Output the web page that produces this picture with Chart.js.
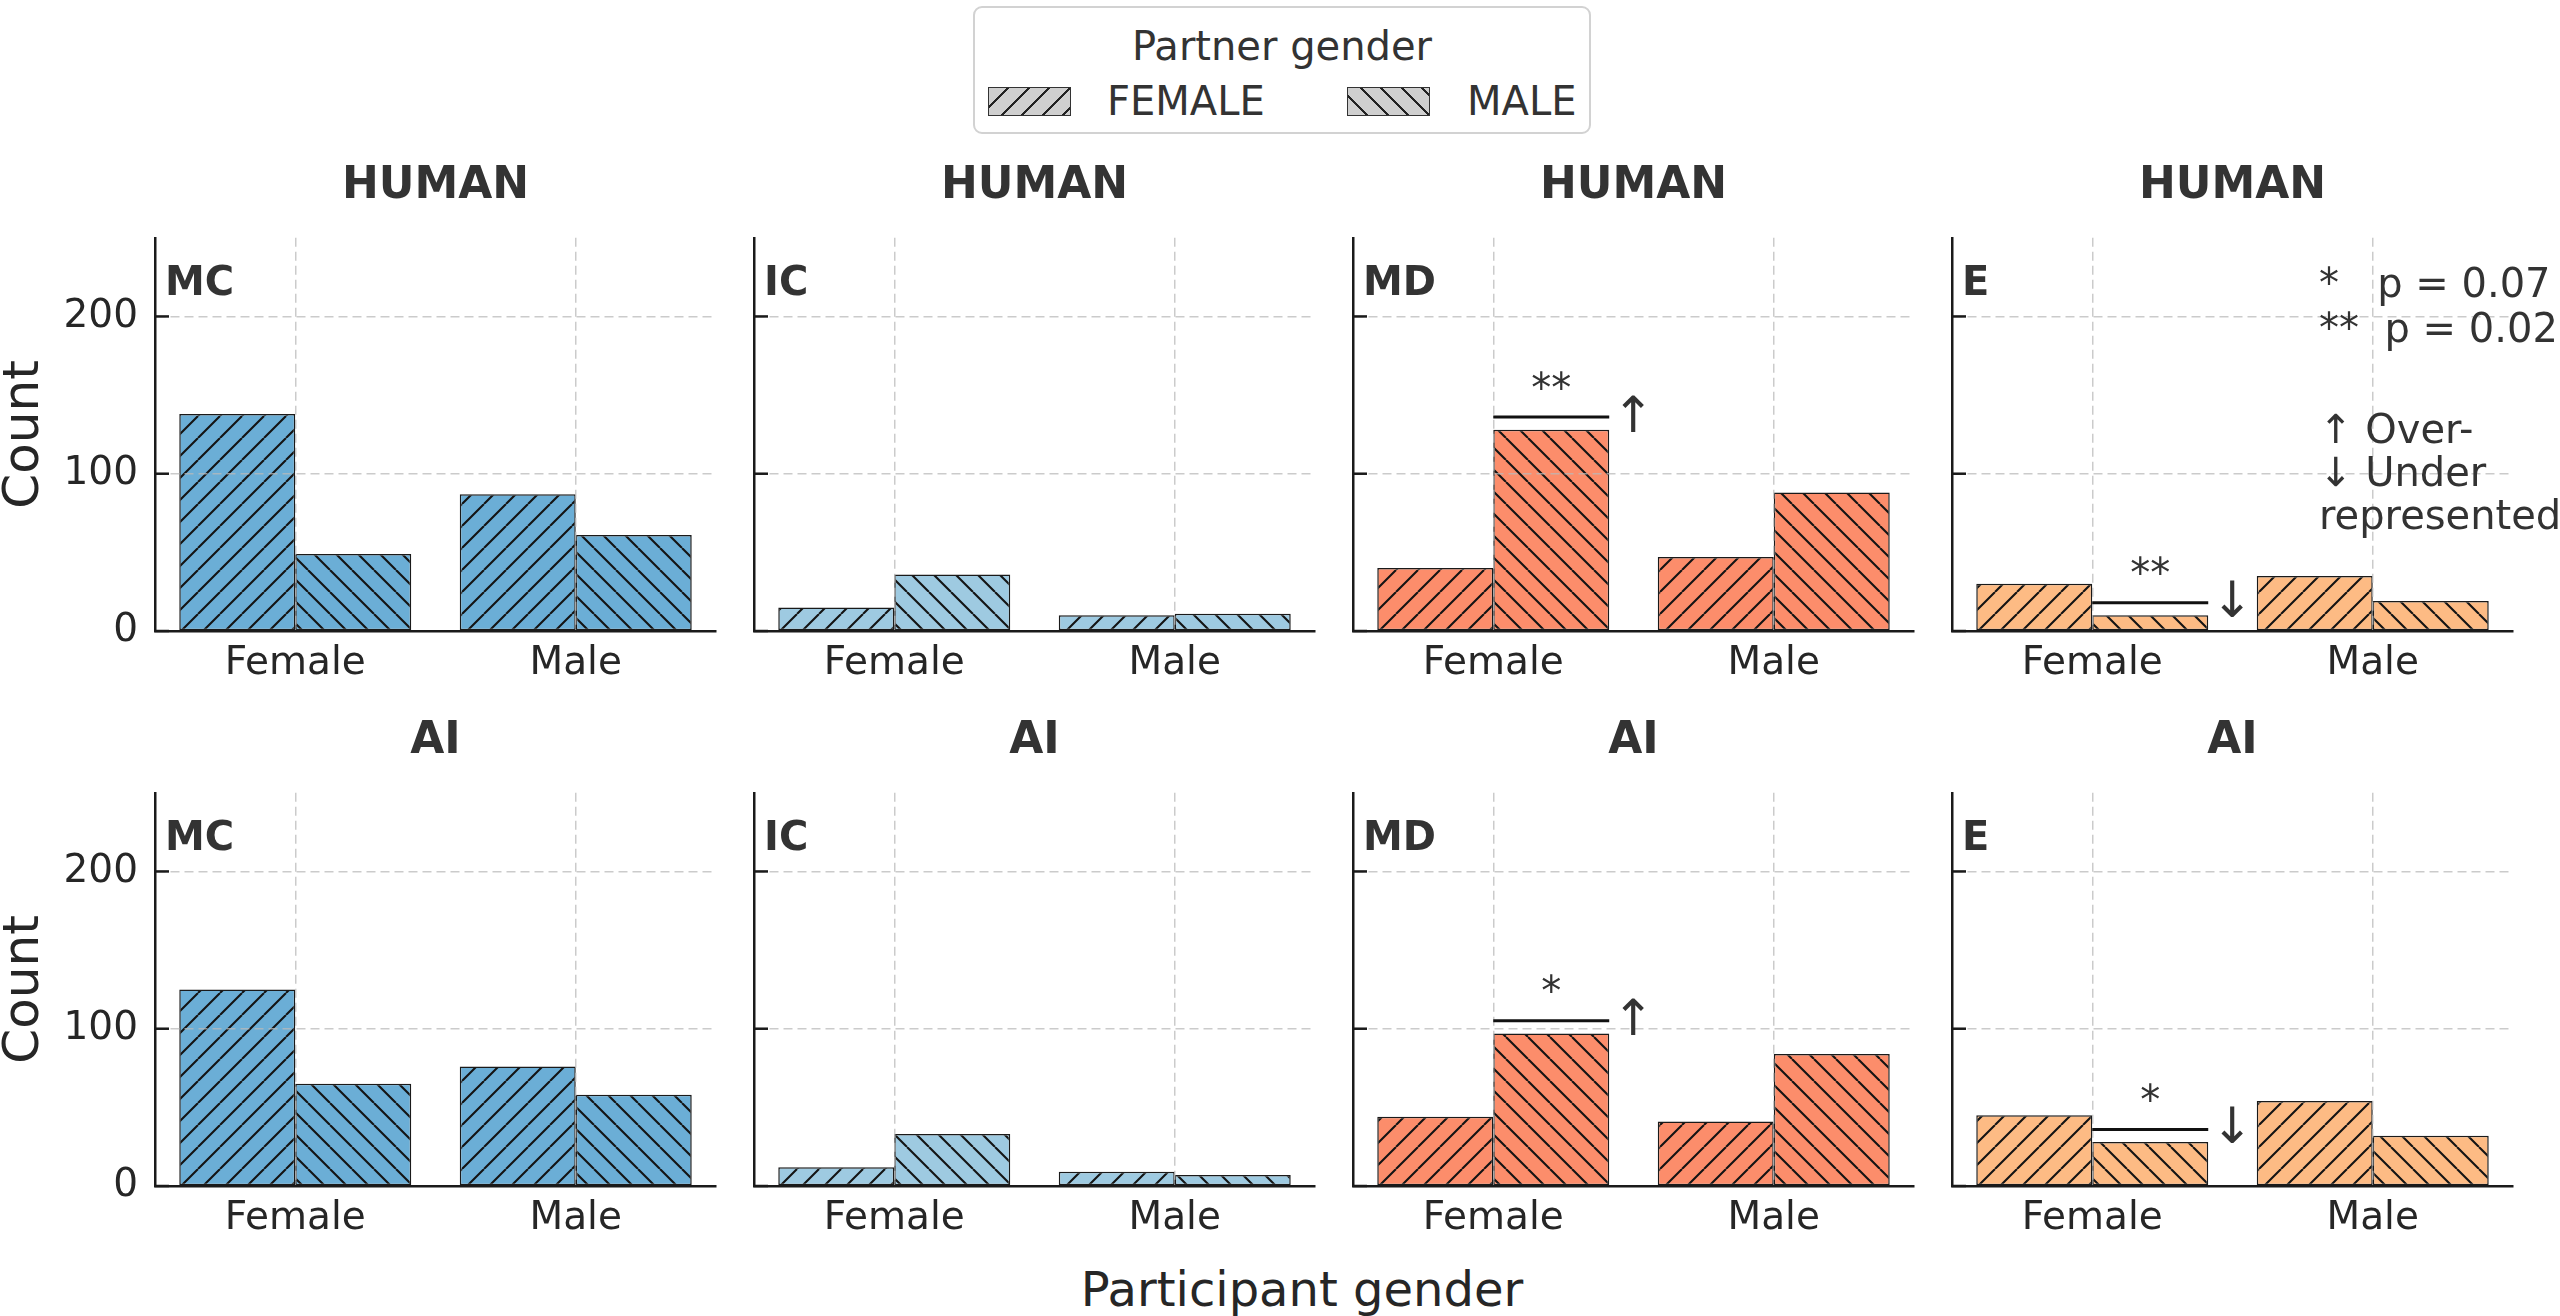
<!DOCTYPE html>
<html>
<head>
<meta charset="utf-8">
<script src="https://cdn.jsdelivr.net/npm/chart.js@4.4.1/dist/chart.umd.min.js"></script>
<style>
html,body{margin:0;padding:0;background:#fff;}
body{width:2560px;height:1316px;position:relative;overflow:hidden;font-family:"DejaVu Sans",sans-serif;color:#333;}
.panel{position:absolute;}
.panel canvas{display:block;}
#legend{position:absolute;left:973px;top:6px;width:618px;height:128px;border:2px solid #d2d2d2;border-radius:9px;box-sizing:border-box;background:#fff;}
#legend .ttl{position:absolute;left:0;width:100%;top:18px;text-align:center;font-size:40px;line-height:40px;color:#333;white-space:nowrap;}
#legend .patch{position:absolute;top:79px;width:83px;height:29px;box-sizing:border-box;border:1.5px solid #333;}
#legend .lab{position:absolute;top:73px;font-size:40px;line-height:40px;color:#333;white-space:nowrap;}
#xlabel{position:absolute;left:1002px;width:600px;top:1265px;text-align:center;font-size:48px;line-height:48px;color:#262626;white-space:nowrap;}
</style>
</head>
<body>
<div id="legend">
  <div class="ttl" id="legTitle"></div>
  <div class="patch" style="left:13px;background:repeating-linear-gradient(135deg,#cfcfcf 0px,#cfcfcf 12.5px,#222 12.5px,#222 14.5px);"></div>
  <div class="lab" id="legF" style="left:132px;"></div>
  <div class="patch" style="left:372px;background:repeating-linear-gradient(45deg,#cfcfcf 0px,#cfcfcf 12.5px,#222 12.5px,#222 14.5px);"></div>
  <div class="lab" id="legM" style="left:492px;"></div>
</div>
<div id="xlabel"></div>
<script>
// ---------------- data ----------------
const participantGender = ['Female', 'Male'];
const partnerGender = ['FEMALE', 'MALE'];
const legendTitle = 'Partner gender';
const xAxisTitle = 'Participant gender';
const yAxisTitle = 'Count';
const rowTitles = ['HUMAN', 'AI'];
const panelCodes = ['MC', 'IC', 'MD', 'E'];
const yTicks = [0, 100, 200];

// counts per participant gender [Female, Male]
const humanMC_partnerFemale = [138, 87];
const humanMC_partnerMale   = [49, 61];
const humanIC_partnerFemale = [15, 10];
const humanIC_partnerMale   = [36, 11];
const humanMD_partnerFemale = [40, 47];
const humanMD_partnerMale   = [128, 88];
const humanE_partnerFemale  = [30, 35];
const humanE_partnerMale    = [10, 19];

const aiMC_partnerFemale = [125, 76];
const aiMC_partnerMale   = [65, 58];
const aiIC_partnerFemale = [12, 9];
const aiIC_partnerMale   = [33, 7];
const aiMD_partnerFemale = [44, 41];
const aiMD_partnerMale   = [97, 84];
const aiE_partnerFemale  = [45, 54];
const aiE_partnerMale    = [28, 32];

// significance marks
const sigRow    = [0, 0, 1, 1];
const sigPanel  = [2, 3, 2, 3];
const sigCat    = [0, 0, 0, 0];
const sigSeries = [1, 1, 1, 1];
const sigStars  = ['**', '**', '*', '*'];
const sigArrow  = ['\u2191', '\u2193', '\u2191', '\u2193'];
const sigOffset = 8;

const noteLines = ['*   p = 0.07', '**  p = 0.02', '\u2191 Over-', '\u2193 Under', 'represented'];

// ---------------- style ----------------
const FONT = "'DejaVu Sans', sans-serif";
const panelColors = ['#6baed6', '#9ecae1', '#fc8d6b', '#fdbb84'];
const axesLeft = [155, 754, 1353, 1952];
const axesWidth = 561;
const leftSpace = 155;
const rightSpace = 47;
const rowTop = [130, 685];
const canvasH = 561;
const GRID = 'rgba(185,185,185,0.75)';
const noteOffsets = [59, 104, 205, 248, 291];

document.getElementById('legTitle').textContent = legendTitle;
document.getElementById('legF').textContent = partnerGender[0];
document.getElementById('legM').textContent = partnerGender[1];
document.getElementById('xlabel').textContent = xAxisTitle;

Chart.defaults.font.family = FONT;

const panelData = [
  [[humanMC_partnerFemale, humanMC_partnerMale], [humanIC_partnerFemale, humanIC_partnerMale],
   [humanMD_partnerFemale, humanMD_partnerMale], [humanE_partnerFemale, humanE_partnerMale]],
  [[aiMC_partnerFemale, aiMC_partnerMale], [aiIC_partnerFemale, aiIC_partnerMale],
   [aiMD_partnerFemale, aiMD_partnerMale], [aiE_partnerFemale, aiE_partnerMale]]
];

function hatch(g, color, dir) {
  const s = 22;
  const c = document.createElement('canvas');
  c.width = s; c.height = s;
  const t = c.getContext('2d');
  t.fillStyle = color; t.fillRect(0, 0, s, s);
  t.strokeStyle = '#141414'; t.lineWidth = 2.1;
  t.beginPath();
  for (let k = -1; k <= 1; k++) {
    if (dir === '/') { t.moveTo(k * s, s); t.lineTo(k * s + s, 0); }
    else { t.moveTo(k * s, 0); t.lineTo(k * s + s, s); }
  }
  t.stroke();
  return g.createPattern(c, 'repeat');
}

function drawCentered(ctx, txt, x, cy) {
  const m = ctx.measureText(txt);
  ctx.textBaseline = 'alphabetic';
  ctx.fillText(txt, x, cy + (m.actualBoundingBoxAscent - m.actualBoundingBoxDescent) / 2);
}

function decorPlugin(row, p) {
  return {
    id: 'panelDecor',
    afterDraw(chart) {
      const ctx = chart.ctx, a = chart.chartArea, ys = chart.scales.y;
      ctx.save();
      ctx.strokeStyle = '#1a1a1a'; ctx.lineWidth = 2.5;
      yTicks.forEach(v => {
        const y = ys.getPixelForValue(v);
        ctx.beginPath(); ctx.moveTo(a.left, y); ctx.lineTo(a.left + 14, y); ctx.stroke();
      });
      ctx.fillStyle = '#333';
      ctx.font = 'bold 40px ' + FONT;
      ctx.textAlign = 'left'; ctx.textBaseline = 'alphabetic';
      ctx.fillText(panelCodes[p], a.left + 10, a.top + 57);
      for (let i = 0; i < sigRow.length; i++) {
        if (sigRow[i] !== row || sigPanel[i] !== p) continue;
        const bar = chart.getDatasetMeta(sigSeries[i]).data[sigCat[i]];
        const val = chart.data.datasets[sigSeries[i]].data[sigCat[i]];
        const y = ys.getPixelForValue(val + sigOffset);
        const x0 = bar.x - bar.width / 2, x1 = bar.x + bar.width / 2;
        ctx.strokeStyle = '#111'; ctx.lineWidth = 3;
        ctx.beginPath(); ctx.moveTo(x0, y); ctx.lineTo(x1, y); ctx.stroke();
        ctx.fillStyle = '#333';
        ctx.textAlign = 'center';
        ctx.font = '40px ' + FONT;
        drawCentered(ctx, sigStars[i], bar.x, y - 37);
        ctx.font = '50px ' + FONT;
        drawCentered(ctx, sigArrow[i], x1 + 24, y - 4);
      }
      if (row === 0 && p === 3) {
        ctx.fillStyle = '#333';
        ctx.textAlign = 'left'; ctx.textBaseline = 'alphabetic';
        ctx.font = '40px ' + FONT;
        noteLines.forEach((t, k) => ctx.fillText(t, a.left + 367, a.top + noteOffsets[k]));
      }
      ctx.restore();
    }
  };
}

function makePanel(row, p) {
  const div = document.createElement('div');
  div.className = 'panel';
  div.style.left = (axesLeft[p] - leftSpace) + 'px';
  div.style.top = rowTop[row] + 'px';
  div.style.width = (leftSpace + axesWidth + rightSpace) + 'px';
  div.style.height = canvasH + 'px';
  const cv = document.createElement('canvas');
  div.appendChild(cv);
  document.body.appendChild(div);
  const g = cv.getContext('2d');
  const [fData, mData] = panelData[row][p];
  new Chart(cv, {
    type: 'bar',
    data: {
      labels: participantGender,
      datasets: [
        { label: partnerGender[0], data: fData, backgroundColor: hatch(g, panelColors[p], '/'),
          borderColor: '#1a1a1a', borderWidth: 1.5, borderSkipped: false },
        { label: partnerGender[1], data: mData, backgroundColor: hatch(g, panelColors[p], '\\'),
          borderColor: '#1a1a1a', borderWidth: 1.5, borderSkipped: false }
      ]
    },
    options: {
      responsive: true, maintainAspectRatio: false, animation: false,
      devicePixelRatio: 1,
      layout: { padding: { left: 0, right: rightSpace, top: 0, bottom: 0 } },
      datasets: { bar: { categoryPercentage: 0.827, barPercentage: 1 } },
      plugins: {
        legend: { display: false },
        tooltip: { enabled: false },
        title: { display: true, fullSize: false, text: rowTitles[row], color: '#333',
                 font: { family: FONT, size: 44, weight: 'bold', lineHeight: 1.2 },
                 padding: { top: 30, bottom: 25 } }
      },
      scales: {
        x: {
          type: 'category', offset: true,
          grid: { display: true, offset: false, drawTicks: false, color: GRID, lineWidth: 1.5, z: 1 },
          border: { display: true, color: '#1a1a1a', width: 2.5, dash: [9, 5], z: 2 },
          ticks: { font: { family: FONT, size: 39 }, color: '#262626', padding: 9, maxRotation: 0, autoSkip: false },
          afterFit(s) { s.height = 60; }
        },
        y: {
          min: 0, max: 250,
          grid: { display: true, drawTicks: false, color: GRID, lineWidth: 1.5, z: 1 },
          border: { display: true, color: '#1a1a1a', width: 2.5, dash: [9, 5], z: 2 },
          ticks: { stepSize: 100, includeBounds: false, display: p === 0, padding: 17,
                   font: { family: FONT, size: 39 }, color: '#262626' },
          title: { display: p === 0, text: yAxisTitle, color: '#262626', padding: 0,
                   font: { family: FONT, size: 50, lineHeight: 1 } },
          afterFit(s) { s.width = leftSpace; }
        }
      }
    },
    plugins: [decorPlugin(row, p)]
  });
}

for (let r = 0; r < 2; r++) for (let p = 0; p < 4; p++) makePanel(r, p);
</script>
</body>
</html>
